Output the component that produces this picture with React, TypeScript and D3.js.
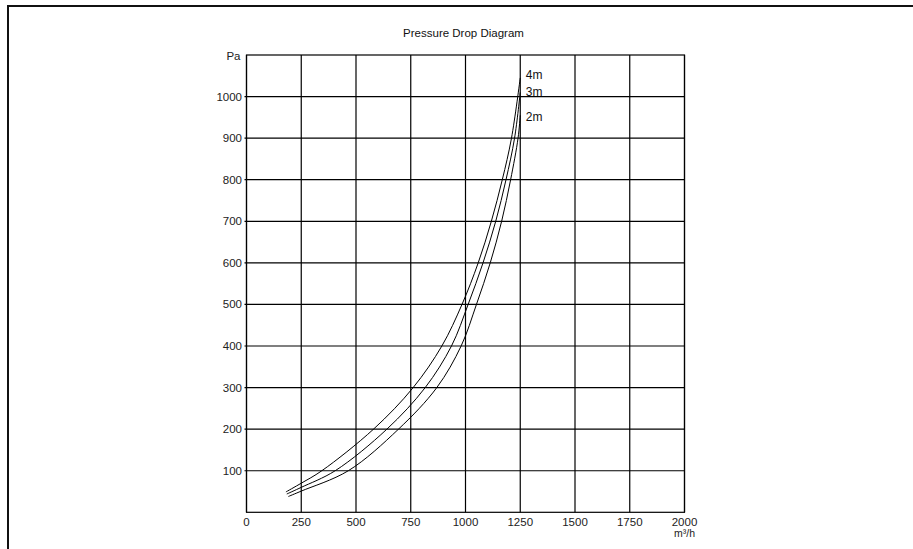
import React from "react";
import * as d3 from "d3";

const title = "Pressure Drop Diagram";
const xTicks = [0, 250, 500, 750, 1000, 1250, 1500, 1750, 2000];
const yTicks = [100, 200, 300, 400, 500, 600, 700, 800, 900, 1000];
const yUnit = "Pa";
const xUnit = "m³/h";

const seriesNames = ["4m", "3m", "2m"];
const flow4m = [180, 250, 344, 580, 761, 892, 984, 1058, 1118, 1168, 1210, 1250];
const pa4m = [49, 70, 100, 200, 300, 400, 500, 600, 700, 800, 900, 1045];
const flow3m = [184, 250, 405, 641, 816, 936, 1012, 1080, 1138, 1185, 1224, 1250];
const pa3m = [44, 60, 100, 200, 300, 400, 500, 600, 700, 800, 900, 1010];
const flow2m = [191, 250, 465, 694, 869, 980, 1050, 1113, 1165, 1206, 1240, 1250];
const pa2m = [38, 51, 100, 200, 300, 400, 500, 600, 700, 800, 900, 955];

const W = 913;
const H = 549;
const x0 = 246.5, x1 = 684.5, yTop = 55, yBot = 512.3;

export default function App() {
  const x = d3.scaleLinear().domain([0, 2000]).range([x0, x1]);
  const y = d3.scaleLinear().domain([0, 1100]).range([yBot, yTop]);
  const line = d3
    .line<[number, number]>()
    .x((d) => x(d[0]))
    .y((d) => y(d[1]))
    .curve(d3.curveCatmullRom.alpha(0.5));
  const series = [
    { name: seriesNames[0], pts: flow4m.map((f, i) => [f, pa4m[i]] as [number, number]), ly: 79 },
    { name: seriesNames[1], pts: flow3m.map((f, i) => [f, pa3m[i]] as [number, number]), ly: 95.5 },
    { name: seriesNames[2], pts: flow2m.map((f, i) => [f, pa2m[i]] as [number, number]), ly: 121 },
  ];
  const font = "Liberation Sans, Arial, sans-serif";
  return (
    <div style={{ position: "absolute", left: 0, top: 0, width: W, height: H, background: "#fff" }}>
      <svg width={W} height={H} style={{ display: "block" }} fontFamily={font}>
        <rect x={0} y={0} width={W} height={H} fill="#fff" />
        <rect x={8} y={6} width={1000} height={700} fill="none" stroke="#111" strokeWidth={2} />
        <text x={(x0 + x1) / 2 - 2} y={36.5} textAnchor="middle" fontSize={11.5} fill="#111">
          {title}
        </text>
        {/* grid */}
        {xTicks.map((t) => (
          <line key={"vx" + t} x1={x(t)} x2={x(t)} y1={y(0)} y2={y(1100)} stroke="#000" strokeWidth={1.2} />
        ))}
        {yTicks.map((t) => (
          <line key={"hy" + t} x1={x(0) - 2} x2={x(2000)} y1={y(t)} y2={y(t)} stroke="#000" strokeWidth={1.2} />
        ))}
        <rect x={x0} y={yTop} width={x1 - x0} height={yBot - yTop} fill="none" stroke="#000" strokeWidth={1.2} />
        {/* y labels */}
        {yTicks.map((t) => (
          <text key={"yl" + t} x={x0 - 4.5} y={y(t) + 4} textAnchor="end" fontSize={11.5} fill="#222">
            {t}
          </text>
        ))}
        <text x={x0 - 6} y={y(1100) + 5} textAnchor="end" fontSize={11.5} fill="#222">
          {yUnit}
        </text>
        {/* x labels */}
        {xTicks.map((t) => (
          <text key={"xl" + t} x={x(t)} y={yBot + 13.5} textAnchor="middle" fontSize={11.5} fill="#222">
            {t}
          </text>
        ))}
        <text x={x(2000)} y={yBot + 25} textAnchor="middle" fontSize={10.5} fill="#222">
          {xUnit}
        </text>
        {/* curves */}
        {series.map((s) => (
          <path key={s.name} d={line(s.pts) || ""} fill="none" stroke="#000" strokeWidth={1} />
        ))}
        {series.map((s) => (
          <text key={"l" + s.name} x={x(1250) + 5.5} y={s.ly} fontSize={12} fill="#111">
            {s.name}
          </text>
        ))}
      </svg>
    </div>
  );
}
